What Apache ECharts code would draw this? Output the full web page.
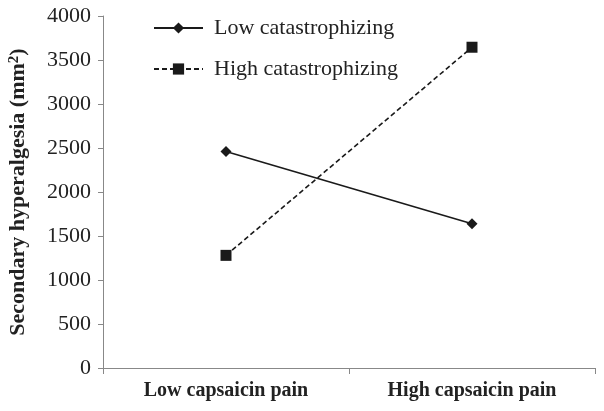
<!DOCTYPE html>
<html><head><meta charset="utf-8">
<script src="https://cdn.jsdelivr.net/npm/echarts@6/dist/echarts.min.js"></script>
<style>html,body{margin:0;padding:0;background:#fff}#c{width:604px;height:411px}</style>
</head><body><div id="c"></div>
<script>
const categories = ['Low capsaicin pain', 'High capsaicin pain'];
const lowCatastrophizing = [2460, 1640];
const highCatastrophizing = [1280, 3645];
const seriesNames = ['Low catastrophizing', 'High catastrophizing'];
const yTicks = {min: 0, max: 4000, interval: 500};

const chart = echarts.init(document.getElementById('c'));
const serif = '"Liberation Serif", "Times New Roman", serif';
chart.setOption({
  animation: false,
  backgroundColor: '#fff',
  grid: {left: 103, right: 9, top: 16, bottom: 43, containLabel: false, outerBoundsMode: 'none'},
  legend: {
    orient: 'vertical', left: 148, top: 12, itemGap: 19, itemWidth: 49, itemHeight: 14,
    textStyle: {fontFamily: serif, fontSize: 22, color: '#222', padding: [0, 0, 0, 6]},
    data: seriesNames
  },
  xAxis: {
    type: 'category', data: categories,
    axisLine: {lineStyle: {color: '#888', width: 1}},
    axisTick: {show: true, length: 6, lineStyle: {color: '#888'}},
    axisLabel: {fontFamily: serif, fontSize: 20, fontWeight: 'bold', color: '#222', margin: 13}
  },
  yAxis: {
    type: 'value', min: yTicks.min, max: yTicks.max, interval: yTicks.interval,
    name: 'Secondary hyperalgesia (mm{sup|2})', nameLocation: 'middle', nameGap: 73,
    nameTextStyle: {fontFamily: serif, fontSize: 22, fontWeight: 'bold', color: '#222',
      rich: {sup: {fontFamily: serif, fontSize: 15, fontWeight: 'bold', color: '#222', verticalAlign: 'top', padding: [0, 0, 8, 0]}}},
    axisLine: {show: true, lineStyle: {color: '#888', width: 1}},
    axisTick: {show: true, length: 5, lineStyle: {color: '#888'}},
    splitLine: {show: false},
    axisLabel: {fontFamily: serif, fontSize: 22, color: '#222', margin: 12, formatter: v => String(v)}
  },
  series: [
    {name: seriesNames[0], type: 'line', data: lowCatastrophizing, symbol: 'diamond', symbolSize: 11,
     lineStyle: {color: '#1a1a1a', width: 1.6, type: 'solid'}, itemStyle: {color: '#1a1a1a'}},
    {name: seriesNames[1], type: 'line', data: highCatastrophizing, symbol: 'rect', symbolSize: 11,
     lineStyle: {color: '#1a1a1a', width: 1.6, type: [5, 3]}, itemStyle: {color: '#1a1a1a'}}
  ]
});
</script></body></html>
